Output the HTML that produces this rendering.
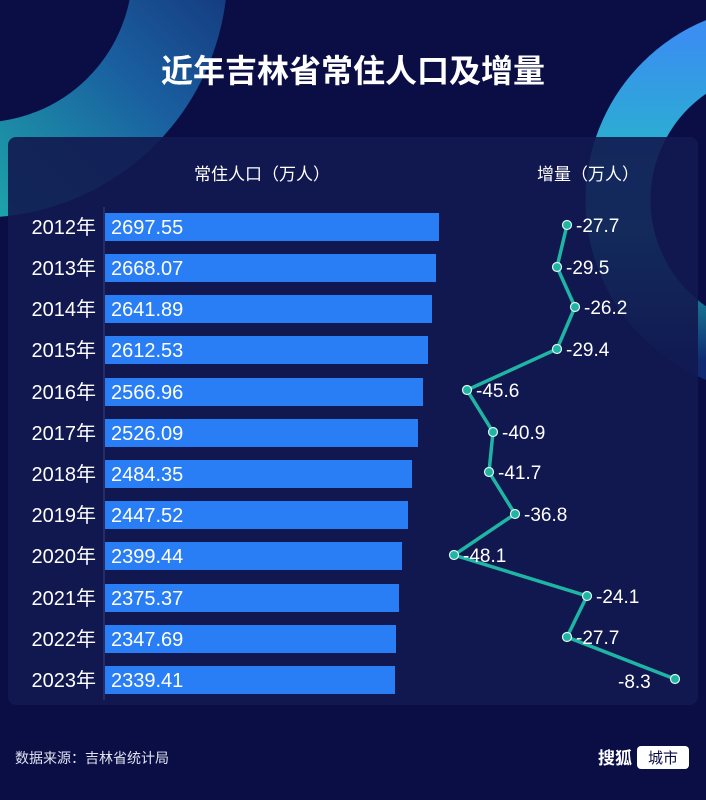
<!DOCTYPE html>
<html><head><meta charset="utf-8"><style>
body{margin:0;width:706px;height:800px;overflow:hidden;background:#0a0e45;font-family:"Liberation Sans","Noto Sans CJK SC",sans-serif;}
</style></head><body>
<svg width="706" height="800" xmlns="http://www.w3.org/2000/svg" style="position:absolute;left:0;top:0">
<defs>
<linearGradient id="g1" x1="0" y1="1" x2="1" y2="0"><stop offset="0" stop-color="#1fd0b0"/><stop offset="0.55" stop-color="#1a5fa0"/><stop offset="1" stop-color="#101a60"/></linearGradient>
<linearGradient id="g2" x1="0" y1="0" x2="0" y2="1"><stop offset="0" stop-color="#3a8ff0"/><stop offset="0.6" stop-color="#1ec8b8"/><stop offset="1" stop-color="#0f2a70"/></linearGradient>
</defs>
<rect width="706" height="800" fill="#0a0e45"/>
<circle cx="-20" cy="-30" r="200" fill="none" stroke="url(#g1)" stroke-width="95"/>
<circle cx="780" cy="200" r="162" fill="none" stroke="url(#g2)" stroke-width="65"/>
<rect x="8" y="137" width="690" height="568" rx="8" fill="#121850" opacity="0.9"/>
<text x="353" y="82" text-anchor="middle" fill="#fff" font-size="32" font-weight="bold" font-family="Noto Sans CJK SC,sans-serif">近年吉林省常住人口及增量</text>
<text x="262" y="180" text-anchor="middle" fill="#fff" font-size="17" font-family="Noto Sans CJK SC,sans-serif">常住人口（万人）</text>
<text x="588" y="180" text-anchor="middle" fill="#fff" font-size="17" font-family="Noto Sans CJK SC,sans-serif">增量（万人）</text>
<line x1="104" y1="207" x2="104" y2="700" stroke="#3a4080" stroke-width="1"/>
<g font-family="Liberation Sans,Noto Sans CJK SC,sans-serif" font-size="20" fill="#fff">
<rect x="105" y="213" width="334" height="28" fill="#2a7ef5"/><text x="111" y="234">2697.55</text><text x="96" y="234" text-anchor="end">2012年</text>
<rect x="105" y="254" width="331" height="28" fill="#2a7ef5"/><text x="111" y="275">2668.07</text><text x="96" y="275" text-anchor="end">2013年</text>
<rect x="105" y="295" width="327" height="28" fill="#2a7ef5"/><text x="111" y="316">2641.89</text><text x="96" y="316" text-anchor="end">2014年</text>
<rect x="105" y="336" width="323" height="28" fill="#2a7ef5"/><text x="111" y="357">2612.53</text><text x="96" y="357" text-anchor="end">2015年</text>
<rect x="105" y="378" width="318" height="28" fill="#2a7ef5"/><text x="111" y="399">2566.96</text><text x="96" y="399" text-anchor="end">2016年</text>
<rect x="105" y="419" width="313" height="28" fill="#2a7ef5"/><text x="111" y="440">2526.09</text><text x="96" y="440" text-anchor="end">2017年</text>
<rect x="105" y="460" width="307" height="28" fill="#2a7ef5"/><text x="111" y="481">2484.35</text><text x="96" y="481" text-anchor="end">2018年</text>
<rect x="105" y="501" width="303" height="28" fill="#2a7ef5"/><text x="111" y="522">2447.52</text><text x="96" y="522" text-anchor="end">2019年</text>
<rect x="105" y="542" width="297" height="28" fill="#2a7ef5"/><text x="111" y="563">2399.44</text><text x="96" y="563" text-anchor="end">2020年</text>
<rect x="105" y="584" width="294" height="28" fill="#2a7ef5"/><text x="111" y="605">2375.37</text><text x="96" y="605" text-anchor="end">2021年</text>
<rect x="105" y="625" width="291" height="28" fill="#2a7ef5"/><text x="111" y="646">2347.69</text><text x="96" y="646" text-anchor="end">2022年</text>
<rect x="105" y="666" width="290" height="28" fill="#2a7ef5"/><text x="111" y="687">2339.41</text><text x="96" y="687" text-anchor="end">2023年</text>
</g>
<polyline points="567,225 557,267 575,307 557,349 467,390 493,432 489,472 515,514 454,555 587,596 567,637 675,679" fill="none" stroke="#1fb5a5" stroke-width="3.5"/>
<g fill="#1fb5a5" stroke="#e0f5f0" stroke-width="1.2">
<circle cx="567" cy="225" r="4.5"/><circle cx="557" cy="267" r="4.5"/><circle cx="575" cy="307" r="4.5"/><circle cx="557" cy="349" r="4.5"/><circle cx="467" cy="390" r="4.5"/><circle cx="493" cy="432" r="4.5"/><circle cx="489" cy="472" r="4.5"/><circle cx="515" cy="514" r="4.5"/><circle cx="454" cy="555" r="4.5"/><circle cx="587" cy="596" r="4.5"/><circle cx="567" cy="637" r="4.5"/><circle cx="675" cy="679" r="4.5"/>
</g>
<g font-size="19" fill="#fff">
<text x="576" y="232">-27.7</text><text x="566" y="274">-29.5</text><text x="584" y="314">-26.2</text><text x="566" y="356">-29.4</text><text x="476" y="397">-45.6</text><text x="502" y="439">-40.9</text><text x="498" y="479">-41.7</text><text x="524" y="521">-36.8</text><text x="463" y="562">-48.1</text><text x="596" y="603">-24.1</text><text x="576" y="644">-27.7</text><text x="618" y="688">-8.3</text>
</g>
<text x="15" y="763" fill="#e0e3f0" font-size="14" font-family="Noto Sans CJK SC,sans-serif">数据来源：吉林省统计局</text>
<text x="598" y="764" fill="#fff" font-size="17" font-weight="bold" font-family="Noto Sans CJK SC,sans-serif">搜狐</text>
<rect x="637" y="746" width="52" height="23" rx="4" fill="#fff"/>
<text x="663" y="763" text-anchor="middle" fill="#0a0e45" font-size="15" font-family="Noto Sans CJK SC,sans-serif">城市</text>
</svg>
</body></html>
